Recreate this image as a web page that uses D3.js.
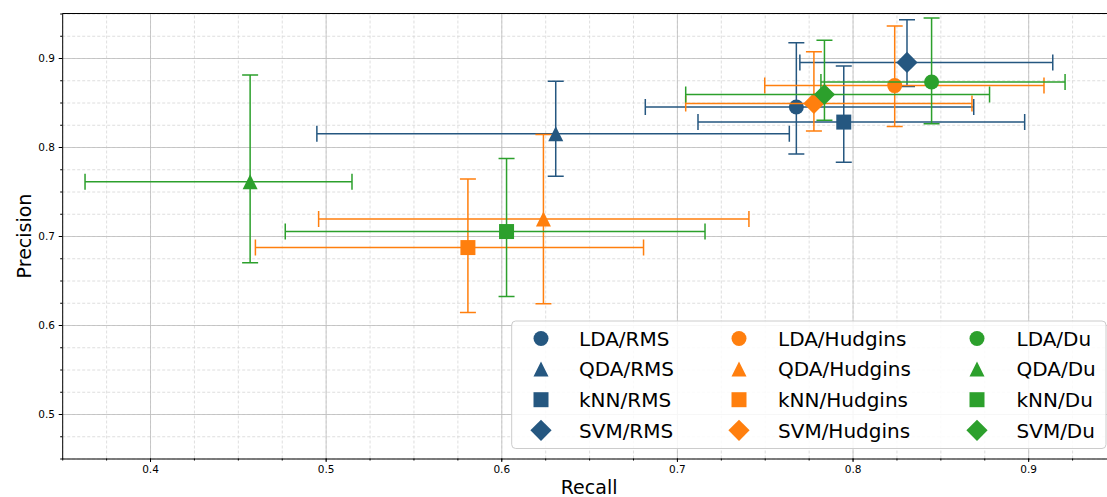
<!DOCTYPE html>
<html>
<head>
<meta charset="utf-8">
<script src="https://cdn.jsdelivr.net/npm/d3@7"></script>
<style>
    body { margin: 0; background: #fff; }
    svg { display: block; font-family: "DejaVu Sans", sans-serif; }
</style>
</head>
<body>
<div id="chart"></div>
<script>
(() => {
// order: LDA, QDA, kNN, SVM for RMS, then Hudgins, then Du
const methods = ['LDA', 'QDA', 'kNN', 'SVM'];
const features = ['RMS', 'Hudgins', 'Du'];

const recall      = [0.768, 0.631, 0.795, 0.831,  0.824, 0.624, 0.581, 0.778,  0.845, 0.457, 0.603, 0.784];
const recallLo    = [0.682, 0.495, 0.712, 0.770,  0.750, 0.496, 0.460, 0.705,  0.782, 0.363, 0.477, 0.705];
const recallHi    = [0.869, 0.764, 0.898, 0.914,  0.909, 0.741, 0.681, 0.868,  0.921, 0.515, 0.716, 0.878];
const precision   = [0.845, 0.815, 0.828, 0.895,  0.869, 0.719, 0.687, 0.849,  0.873, 0.761, 0.705, 0.859];
const precisionLo = [0.792, 0.767, 0.783, 0.868,  0.823, 0.624, 0.614, 0.818,  0.826, 0.670, 0.632, 0.830];
const precisionHi = [0.917, 0.874, 0.891, 0.943,  0.936, 0.814, 0.764, 0.907,  0.945, 0.881, 0.787, 0.920];

const xTicks = [0.4, 0.5, 0.6, 0.7, 0.8, 0.9];
const yTicks = [0.5, 0.6, 0.7, 0.8, 0.9];

const colors = ['#255780', '#ff7f0e', '#2ca02c'];
const shapes = ['o', '^', 's', 'D'];

const width = 1107;
const height = 497;
const left = 62.2, right = 1116, top = 13.5, bottom = 458.5;
const ms = 15; // marker size px
const cap = 8;

// matplotlib-like marker paths
const markerTypes = {
    o: { draw(ctx, size) { const r = Math.sqrt(size) / 2; ctx.moveTo(r, 0); ctx.arc(0, 0, r, 0, 2 * Math.PI); } },
    '^': { draw(ctx, size) { const h = Math.sqrt(size) / 2; ctx.moveTo(0, -h); ctx.lineTo(h, h); ctx.lineTo(-h, h); ctx.closePath(); } },
    s: { draw(ctx, size) { const h = Math.sqrt(size) / 2; ctx.rect(-h, -h, 2 * h, 2 * h); } },
    D: { draw(ctx, size) { const h = Math.sqrt(size) / Math.SQRT2; ctx.moveTo(0, -h); ctx.lineTo(h, 0); ctx.lineTo(0, h); ctx.lineTo(-h, 0); ctx.closePath(); } }
};
const marker = d3.symbol().size(ms * ms);

const points = [];
features.forEach((f, fi) => {
    methods.forEach((m, mi) => {
        const i = fi * methods.length + mi;
        points.push({
            label: `${m}/${f}`,
            color: colors[fi],
            shape: shapes[mi],
            r: recall[i], rLo: recallLo[i], rHi: recallHi[i],
            p: precision[i], pLo: precisionLo[i], pHi: precisionHi[i]
        });
    });
});

const x = d3.scaleLinear().domain([0.35, 0.95]).range([left, right]);
const y = d3.scaleLinear().domain([0.45, 0.95]).range([bottom, top]);
const xMinor = d3.range(14, 39).map(k => k / 40);
const yMinor = d3.range(18, 39).map(k => k / 40);

const svg = d3.select('#chart')
    .append('svg')
    .attr('width', width)
    .attr('height', height);

// grid, minor first then major
function grid(axis, values, transform, stroke, dash) {
    const g = svg.append('g')
        .attr('transform', transform)
        .call(axis.tickValues(values).tickFormat('').tickSizeOuter(0));
    g.select('.domain').remove();
    g.selectAll('line').attr('stroke', stroke).attr('stroke-width', 0.8).attr('stroke-dasharray', dash);
}
grid(d3.axisBottom(x).tickSize(-(bottom - top)), xMinor, `translate(0,${bottom})`, '#d6d6d6', '3,2');
grid(d3.axisLeft(y).tickSize(-(right - left)), yMinor, `translate(${left},0)`, '#d6d6d6', '3,2');
grid(d3.axisBottom(x).tickSize(-(bottom - top)), xTicks, `translate(0,${bottom})`, '#bdbdbd', null);
grid(d3.axisLeft(y).tickSize(-(right - left)), yTicks, `translate(${left},0)`, '#bdbdbd', null);

// data: error bars then marker, series by series
const series = svg.append('g').selectAll('g')
    .data(points)
    .enter()
    .append('g')
    .attr('stroke', d => d.color)
    .attr('stroke-width', 1.5)
    .attr('fill', 'none');

series.append('path')
    .attr('d', d => {
        const cx = x(d.r), cy = y(d.p);
        const x0 = x(d.rLo), x1 = x(d.rHi), y0 = y(d.pLo), y1 = y(d.pHi);
        return `M${x0},${cy}H${x1}` +
            `M${x0},${cy - cap}V${cy + cap}M${x1},${cy - cap}V${cy + cap}` +
            `M${cx},${y0}V${y1}` +
            `M${cx - cap},${y0}H${cx + cap}M${cx - cap},${y1}H${cx + cap}`;
    });

series.append('path')
    .attr('transform', d => `translate(${x(d.r)},${y(d.p)})`)
    .attr('d', d => marker.type(markerTypes[d.shape])())
    .attr('fill', d => d.color)
    .attr('stroke', 'none');

// axes
const xAxis = svg.append('g')
    .attr('transform', `translate(0,${bottom})`)
    .call(d3.axisBottom(x).tickValues(xTicks).tickSize(3.5).tickPadding(3.8).tickSizeOuter(0).tickFormat(d3.format('.1f')));
svg.append('g')
    .attr('transform', `translate(0,${bottom})`)
    .call(d3.axisBottom(x).tickValues(xMinor).tickSize(2).tickFormat('').tickSizeOuter(0))
    .select('.domain').remove();
const yAxis = svg.append('g')
    .attr('transform', `translate(${left},0)`)
    .call(d3.axisLeft(y).tickValues(yTicks).tickSize(3.5).tickPadding(3.8).tickSizeOuter(0).tickFormat(d3.format('.1f')));
svg.append('g')
    .attr('transform', `translate(${left},0)`)
    .call(d3.axisLeft(y).tickValues(yMinor).tickSize(2).tickFormat('').tickSizeOuter(0))
    .select('.domain').remove();

[xAxis, yAxis].forEach(a => {
    a.selectAll('text').attr('font-size', 10.5).attr('fill', '#000').attr('font-family', '"DejaVu Sans", sans-serif');
    a.select('.domain').attr('stroke', '#000').attr('stroke-width', 1);
});
svg.append('line')
    .attr('x1', left).attr('x2', right).attr('y1', top).attr('y2', top)
    .attr('stroke', '#000').attr('stroke-width', 1);

svg.append('text')
    .attr('x', (left + right) / 2)
    .attr('y', 493.5)
    .attr('text-anchor', 'middle')
    .attr('font-size', 19)
    .text('Recall');
svg.append('text')
    .attr('transform', `translate(31,${(top + bottom) / 2}) rotate(-90)`)
    .attr('text-anchor', 'middle')
    .attr('font-size', 19)
    .text('Precision');

// legend
const legend = svg.append('g');
legend.append('rect')
    .attr('x', 511.7).attr('y', 321)
    .attr('width', 1106 - 511.7).attr('height', 448.5 - 321)
    .attr('rx', 4)
    .attr('fill', '#fff').attr('fill-opacity', 0.85)
    .attr('stroke', '#cccccc').attr('stroke-width', 1);

const colMarkerX = [541, 739, 977];
const colTextX = [579, 778, 1016.5];
const rowY = d3.range(4).map(k => 338.5 + k * 30.6);

const item = legend.selectAll('g.item')
    .data(points)
    .enter()
    .append('g')
    .attr('class', 'item')
    .attr('transform', (d, i) => `translate(0,${rowY[i % 4]})`);

item.append('path')
    .attr('transform', (d, i) => `translate(${colMarkerX[Math.floor(i / 4)]},0)`)
    .attr('d', d => marker.type(markerTypes[d.shape])())
    .attr('fill', d => d.color);

item.append('text')
    .attr('x', (d, i) => colTextX[Math.floor(i / 4)])
    .attr('dy', '0.36em')
    .attr('font-size', 20)
    .attr('fill', '#000')
    .text(d => d.label);
})();
</script>
</body>
</html>
